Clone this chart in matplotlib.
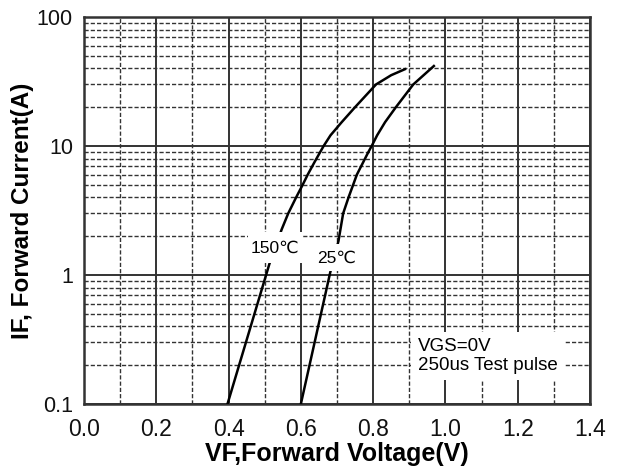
import matplotlib
matplotlib.use("Agg")
import matplotlib.pyplot as plt
from matplotlib.path import Path
from matplotlib.ticker import FixedLocator, NullFormatter

plt.rcParams['font.family'] = ['Liberation Sans', 'DejaVu Sans']

# Data
vf_150 = [0.397, 0.513, 0.547, 0.565, 0.587, 0.605, 0.619, 0.638, 0.663, 0.682,
          0.713, 0.750, 0.808, 0.850, 0.888]
if_150 = [0.1, 1.22, 2.26, 3.0, 4.0, 5.0, 6.0, 7.52, 10.0, 12.1,
          15.3, 20.0, 30.0, 35.4, 39.4]
vf_25 = [0.600, 0.681, 0.704, 0.717, 0.732, 0.755, 0.787, 0.796, 0.811, 0.833,
         0.863, 0.911, 0.968]
if_25 = [0.1, 1.04, 1.83, 3.0, 4.0, 6.0, 9.0, 10.0, 12.1, 15.3,
         20.0, 30.0, 41.7]

x_ticks = [0.0, 0.2, 0.4, 0.6, 0.8, 1.0, 1.2, 1.4]
x_tick_labels = ["0.0", "0.2", "0.4", "0.6", "0.8", "1.0", "1.2", "1.4"]
y_ticks = [0.1, 1, 10, 100]
y_tick_labels = ["0.1", "1", "10", "100"]


def make_box(padx, pady):
    def box(x0, y0, width, height, mutation_size):
        px = padx * mutation_size
        py = pady * mutation_size
        verts = [(x0 - px, y0 - py), (x0 + width + px, y0 - py),
                 (x0 + width + px, y0 + height + py), (x0 - px, y0 + height + py),
                 (x0 - px, y0 - py)]
        return Path(verts, closed=True)
    return box


fig = plt.figure(figsize=(6.17, 4.70), dpi=100)
ax = fig.add_axes([84/617, 1-404/470, (590-84)/617, (404-17)/470])
ax.set_xlim(0, 1.4)
ax.set_yscale('log')
ax.set_ylim(0.1, 100)

ax.xaxis.set_major_locator(FixedLocator(x_ticks))
ax.set_xticklabels(x_tick_labels)
ax.xaxis.set_minor_locator(FixedLocator([0.1, 0.3, 0.5, 0.7, 0.9, 1.1, 1.3]))
ax.yaxis.set_major_locator(FixedLocator(y_ticks))
ax.set_yticklabels(y_tick_labels)
minor_y = [m * d for d in (0.1, 1, 10) for m in range(2, 10)]
ax.yaxis.set_minor_locator(FixedLocator(minor_y))
ax.yaxis.set_minor_formatter(NullFormatter())

ax.tick_params(which='both', length=0, colors='#111111')
ax.tick_params(axis='x', labelsize=16.5, pad=10)
ax.tick_params(axis='y', labelsize=15.5, pad=8)
ax.grid(which='major', color='#333333', linewidth=1.4, linestyle='-')
ax.grid(which='minor', color='#333333', linewidth=1.0, linestyle=(0, (3, 1.5)))
ax.set_axisbelow(True)
for s in ax.spines.values():
    s.set_linewidth(1.8)
    s.set_color('#333333')

ax.plot(vf_150, if_150, color='black', linewidth=1.8, zorder=3)
ax.plot(vf_25, if_25, color='black', linewidth=1.8, zorder=3)

ax.text(0.528, 1.62, "150℃", fontsize=12.5, ha='center', va='center', zorder=4,
        bbox=dict(facecolor='white', edgecolor='none', boxstyle=make_box(0.17, 0.46)))
ax.text(0.700, 1.36, "25℃", fontsize=12.5, ha='center', va='center', zorder=4,
        bbox=dict(facecolor='white', edgecolor='none', boxstyle=make_box(0.25, 0.35)))

ax.text(0.924, 0.236, "VGS=0V\n250us Test pulse", fontsize=13.5, ha='left', va='center',
        linespacing=1.1, zorder=4,
        bbox=dict(facecolor='white', edgecolor='none', boxstyle='square,pad=0.35'))

ax.set_xlabel("VF,Forward Voltage(V)", fontsize=18, fontweight='bold', labelpad=1)
ax.set_ylabel("IF, Forward Current(A)", fontsize=17.5, fontweight='bold', labelpad=2)

fig.savefig("out.png", dpi=100)
